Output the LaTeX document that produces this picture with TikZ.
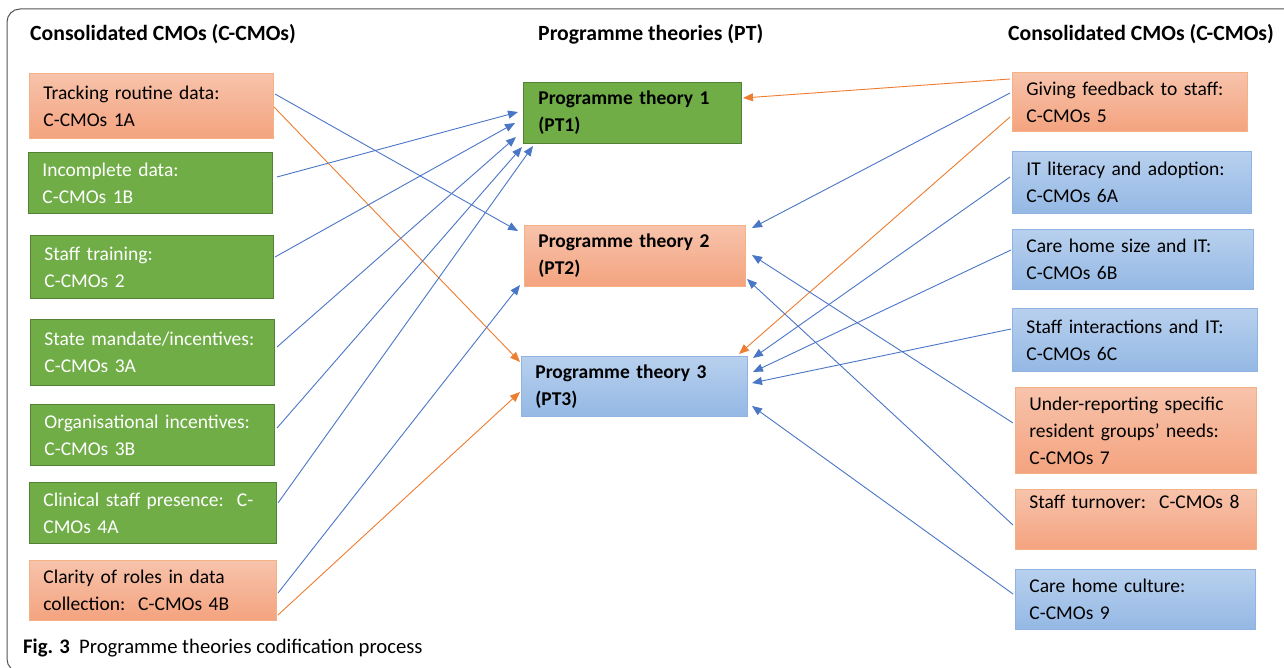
\documentclass[tikz,border=0pt]{standalone}
\usepackage{fontspec}
\setmainfont{Carlito}
\usetikzlibrary{arrows.meta,calc}
\definecolor{gfill}{HTML}{70AD47}
\definecolor{gline}{HTML}{548235}
\definecolor{otop}{HTML}{F7C3AB}
\definecolor{obot}{HTML}{F4A37F}
\definecolor{oline}{HTML}{F4B183}
\definecolor{btop}{HTML}{B8D0EE}
\definecolor{bbot}{HTML}{94B8E4}
\definecolor{bline}{HTML}{8FB3E2}
\definecolor{conb}{HTML}{4A76C6}
\definecolor{cono}{HTML}{ED7D31}
\definecolor{frame}{HTML}{555555}
\tikzset{
  txt/.style={font=\fontsize{19.5}{27}\selectfont, align=left, inner ysep=0pt, inner xsep=14pt, anchor=north west},
  gbox/.style={txt, fill=gfill, draw=gline, line width=0.8pt, text=white},
  obox/.style={txt, top color=otop, bottom color=obot, draw=oline, line width=0.8pt, text=black},
  bbox/.style={txt, top color=btop, bottom color=bbot, draw=bline, line width=0.8pt, text=black},
  hdr/.style={font=\fontsize{21.7}{27}\selectfont\bfseries, anchor=base west, inner sep=0pt},
  bl/.style={draw=conb, line width=0.9pt, -{Triangle[length=10pt,width=8pt]}},
  or/.style={draw=cono, line width=0.9pt, -{Triangle[length=10pt,width=8pt]}}
}
\begin{document}
\begin{tikzpicture}[x=1pt,y=-1pt]
\useasboundingbox (0,0) rectangle (1284,668);
\fill[white] (0,0) rectangle (1284,668);
\draw[frame, line width=1pt, rounded corners=13pt] (7,9) rectangle (1300,672);

% headers
\node[hdr] (h1) at (30,41) {Consolidated CMOs (C-CMOs)};
\node[hdr] (h2) at (538,41) {Programme theories (PT)};
\node[hdr] (h3) at (1008,41) {Consolidated CMOs (C-CMOs)};

% left column
\node[obox, text width=216pt, minimum height=65pt] (tr) at (29,73) {Tracking routine data:\\C-CMOs 1A};
\node[gbox, text width=216pt, minimum height=61pt] (inc) at (28,152) {Incomplete data:\\C-CMOs 1B};
\node[gbox, text width=215pt, minimum height=63pt] (st) at (30,235) {Staff training:\\C-CMOs 2};
\node[gbox, text width=216pt, minimum height=66pt] (sm) at (30,319) {State mandate/incentives:\\C-CMOs 3A};
\node[gbox, text width=216pt, minimum height=61pt] (oi) at (30,404) {Organisational incentives:\\C-CMOs 3B};
\node[gbox, text width=219pt, minimum height=61pt] (cl) at (29,482) {Clinical staff presence:~~C-\\CMOs 4A};
\node[obox, text width=219pt, minimum height=60pt] (ca) at (29,560) {Clarity of roles in data\\collection:~~C-CMOs 4B};

% middle column
\node[gbox, text=black, font=\fontsize{19.5}{27}\selectfont\bfseries, inner xsep=15pt, text width=188pt, minimum height=61pt] (pt1) at (523,82) {Programme theory 1\\(PT1)};
\node[obox, font=\fontsize{19.5}{27}\selectfont\bfseries, inner xsep=14pt, text width=193pt, minimum height=61pt] (pt2) at (524,225) {Programme theory 2\\(PT2)};
\node[bbox, font=\fontsize{19.5}{27}\selectfont\bfseries, inner xsep=14pt, text width=198pt, minimum height=60pt] (pt3) at (521,356) {Programme theory 3\\(PT3)};

% right column
\node[obox, text width=207pt, minimum height=59pt] (gf) at (1012,72) {Giving feedback to staff:\\C-CMOs 5};
\node[bbox, text width=211pt, minimum height=62pt] (it) at (1012,151) {IT literacy and adoption:\\C-CMOs 6A};
\node[bbox, text width=213pt, minimum height=60pt] (ch) at (1012,229) {Care home size and IT:\\C-CMOs 6B};
\node[bbox, text width=217pt, minimum height=63pt] (si) at (1012,308) {Staff interactions and IT:\\C-CMOs 6C};
\node[obox, text width=213pt, minimum height=86pt] (ur) at (1015,387) {Under-reporting specific\\resident groups’ needs:\\C-CMOs 7};
\node[obox, text width=213pt, minimum height=60pt] (to) at (1015,489) {Staff turnover:~~C-CMOs 8\\\strut};
\node[bbox, text width=212pt, minimum height=60pt] (cc) at (1015,569) {Care home culture:\\C-CMOs 9};

% left connectors
\draw[bl] ($(tr.north west)+(246,21)$) -- ($(pt2.north west)+(-6,6)$);
\draw[or] ($(tr.north west)+(245,34)$) -- ($(pt3.north west)+(-1,6)$);
\draw[bl] ($(inc.north west)+(249,25)$) -- ($(pt1.north west)+(-5,30)$);
\draw[bl] ($(st.north west)+(245,22)$) -- ($(pt1.north west)+(-8,41)$);
\draw[bl] ($(sm.north west)+(247,28)$) -- ($(pt1.north west)+(-7,55)$);
\draw[bl] ($(oi.north west)+(247,24)$) -- ($(pt1.north west)+(-1,65)$);
\draw[bl] ($(cl.north west)+(249,21)$) -- ($(pt1.north west)+(10,64)$);
\draw[bl] ($(ca.north west)+(249,33)$) -- ($(pt2.north west)+(-4,60)$);
\draw[or] ($(ca.north west)+(249,55)$) -- ($(pt3.north west)+(-1,36)$);

% right connectors
\draw[or] ($(gf.north west)+(-2,7)$) -- ($(pt1.north west)+(220,16)$);
\draw[bl] ($(gf.north west)+(-2,21)$) -- ($(pt2.north west)+(228,3)$);
\draw[or] ($(gf.north west)+(-2,45)$) -- ($(pt3.north west)+(218,-2)$);
\draw[bl] ($(it.north west)+(-2,26)$) -- ($(pt3.north west)+(232,2)$);
\draw[bl] ($(ch.north west)+(-1,21)$) -- ($(pt3.north west)+(232,16)$);
\draw[bl] ($(si.north west)+(-1,21)$) -- ($(pt3.north west)+(231,27)$);
\draw[bl] ($(ur.north west)+(-2,36)$) -- ($(pt2.north west)+(228,30)$);
\draw[bl] ($(to.north west)+(-2,36)$) -- ($(pt2.north west)+(223,54)$);
\draw[bl] ($(cc.north west)+(-2,25)$) -- ($(pt3.north west)+(231,50)$);

% caption
\node[anchor=base west, inner sep=0pt, font=\fontsize{20.7}{24}\selectfont] (cap) at (23,653) {\textbf{Fig. 3}\ \ Programme theories codification process};
\end{tikzpicture}
\end{document}
